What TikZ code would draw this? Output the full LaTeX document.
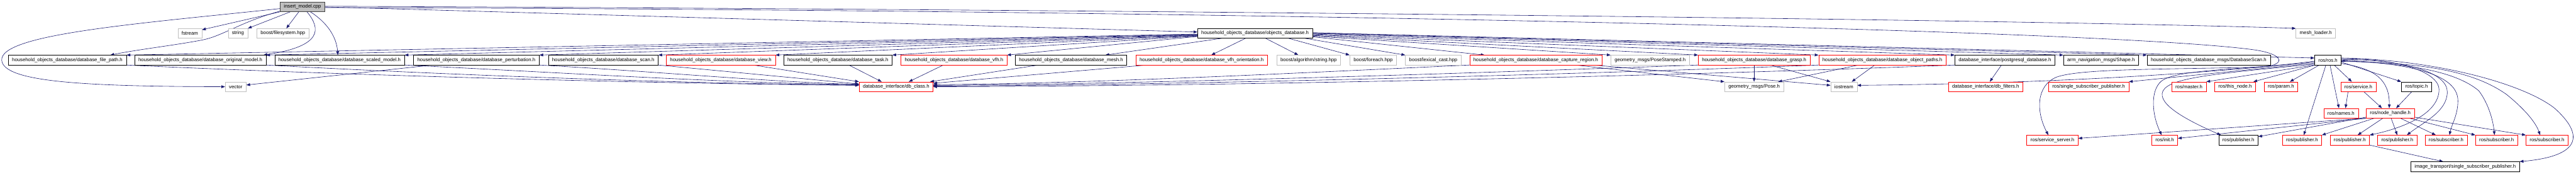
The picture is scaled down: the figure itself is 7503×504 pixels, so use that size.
\documentclass[tikz,border=0pt]{standalone}
\usepackage{fontspec}
\newfontfamily\dxfont{Liberation Sans}
\usetikzlibrary{arrows.meta,backgrounds,calc}
\definecolor{dxedge}{RGB}{25,25,112}
\definecolor{dxred}{RGB}{255,0,0}
\definecolor{dxgray}{RGB}{191,191,191}
\definecolor{dxfill}{RGB}{191,191,191}
\definecolor{dxdark}{RGB}{64,64,64}
\tikzset{
  hdr/.style={rectangle, draw=#1, line width=1pt, fill=white, text=black,
    inner xsep=11pt, inner ysep=0pt, minimum height=28pt,
    font=\dxfont\fontsize{14.25}{16}\selectfont},
  hdr/.default=black,
  incl/.style={-{Triangle[length=11pt,width=8pt]}, line width=1.1pt, draw=dxedge}
}
\begin{document}
\begin{tikzpicture}[x=1pt,y=1pt]
  \useasboundingbox (0,0) rectangle (7503,504);
  % file itself
  \node[hdr=dxdark, fill=dxfill] (ins) at (881,484) {insert\_model.cpp};
  % second rank
  \node[hdr=dxgray] (fstrm) at (553,407) {fstream};
  \node[hdr=dxgray] (strng) at (693,407) {string};
  \node[hdr=dxgray] (fsys) at (824,407) {boost/filesystem.hpp};
  \node[hdr] (objdb) at (3655.5,407) {household\_objects\_database/objects\_database.h};
  \node[hdr=dxgray] (meshld) at (6745,407) {mesh\_loader.h};
  % third rank
  \node[hdr] (fpath) at (196,329.5) {household\_objects\_database/database\_file\_path.h};
  \node[hdr] (origm) at (583.5,329.5) {household\_objects\_database/database\_original\_model.h};
  \node[hdr] (scalm) at (989,329.5) {household\_objects\_database/database\_scaled\_model.h};
  \node[hdr] (pertb) at (1387.5,329.5) {household\_objects\_database/database\_perturbation.h};
  \node[hdr] (scan) at (1757,329.5) {household\_objects\_database/database\_scan.h};
  \node[hdr=dxred] (view) at (2099.5,329.5) {household\_objects\_database/database\_view.h};
  \node[hdr] (task) at (2440.5,329.5) {household\_objects\_database/database\_task.h};
  \node[hdr=dxred] (vfh) at (2778.5,329.5) {household\_objects\_database/database\_vfh.h};
  \node[hdr] (mesh) at (3119.5,329.5) {household\_objects\_database/database\_mesh.h};
  \node[hdr=dxred] (vfho) at (3500,329.5) {household\_objects\_database/database\_vfh\_orientation.h};
  \node[hdr=dxgray] (algstr) at (3811.5,329.5) {boost/algorithm/string.hpp};
  \node[hdr=dxgray] (bforeach) at (3999.5,329.5) {boost/foreach.hpp};
  \node[hdr=dxgray] (lexcast) at (4174.5,329.5) {boost/lexical\_cast.hpp};
  \node[hdr=dxred] (capreg) at (4473,329.5) {household\_objects\_database/database\_capture\_region.h};
  \node[hdr=dxgray] (posest) at (4806,329.5) {geometry\_msgs/PoseStamped.h};
  \node[hdr=dxred] (grasp) at (5109,329.5) {household\_objects\_database/database\_grasp.h};
  \node[hdr=dxred] (objpath) at (5482.5,329.5) {household\_objects\_database/database\_object\_paths.h};
  \node[hdr] (pgdb) at (5839.5,329.5) {database\_interface/postgresql\_database.h};
  \node[hdr] (shape) at (6119.5,329.5) {arm\_navigation\_msgs/Shape.h};
  \node[hdr] (dbscan) at (6433,329.5) {household\_objects\_database\_msgs/DatabaseScan.h};
  \node[hdr] (rosros) at (6780.5,329.5) {ros/ros.h};
  % fourth rank
  \node[hdr=dxgray] (vector) at (686.5,252) {vector};
  \node[hdr=dxred] (dbclass) at (2610,252) {database\_interface/db\_class.h};
  \node[hdr=dxgray] (pose) at (5109,252) {geometry\_msgs/Pose.h};
  \node[hdr=dxgray] (iostrm) at (5370.5,252) {iostream};
  \node[hdr=dxred] (dbfilt) at (5783.5,252) {database\_interface/db\_filters.h};
  \node[hdr=dxred] (sspub) at (6083.5,252) {ros/single\_subscriber\_publisher.h};
  \node[hdr=dxred] (master) at (6375.5,252) {ros/master.h};
  \node[hdr=dxred] (thisnode) at (6510,252) {ros/this\_node.h};
  \node[hdr=dxred] (param) at (6643.5,252) {ros/param.h};
  \node[hdr=dxred] (service) at (6869,252) {ros/service.h};
  \node[hdr] (topic) at (7038.5,252) {ros/topic.h};
  % fifth rank
  \node[hdr=dxred] (names) at (6818.5,175) {ros/names.h};
  \node[hdr=dxred] (nhandle) at (6962,175) {ros/node\_handle.h};
  % sixth rank
  \node[hdr=dxred] (ssrv) at (5978,97) {ros/service\_server.h};
  \node[hdr=dxred] (init) at (6305,97) {ros/init.h};
  \node[hdr] (pubb) at (6519.5,97) {ros/publisher.h};
  \node[hdr=dxred] (pubr1) at (6705,97) {ros/publisher.h};
  \node[hdr=dxred] (pubr2) at (6844,97) {ros/publisher.h};
  \node[hdr=dxred] (pubr3) at (6982.5,97) {ros/publisher.h};
  \node[hdr=dxred] (sub1) at (7124.5,97) {ros/subscriber.h};
  \node[hdr=dxred] (sub2) at (7271.5,97) {ros/subscriber.h};
  \node[hdr=dxred] (sub3) at (7418.5,97) {ros/subscriber.h};
  % last rank
  \node[hdr] (imgtr) at (7180,20) {image\_transport/single\_subscriber\_publisher.h};

  \begin{scope}[on background layer]
    \fill[white] (0,0) rectangle (7503,504);
    % insert_model.cpp
    \draw[incl] (ins.south west) -- ([yshift=-4pt]fstrm.north east);
    \draw[incl] ([xshift=30pt]ins.south west) -- (strng.north east);
    \draw[incl] ([xshift=55pt]ins.south west) -- ([xshift=10pt]fsys.north);
    \draw[incl] ([xshift=79pt]ins.south west) .. controls (935,420) and (940,370) .. ([xshift=-8pt]origm.north east);
    \draw[incl] ([xshift=89pt]ins.south west) .. controls (950,440) and (980,400) .. ([xshift=-5pt]scalm.north);
    \draw[incl] ([yshift=2pt]ins.south west) .. controls (700,440) and (650,400) .. (590,388)
      .. controls (520,374) and (400,360) .. ([xshift=-47pt]fpath.north east);
    \draw[incl] ([yshift=-5pt]ins.west) .. controls (400,435) and (0,405) .. (5,329)
      .. controls (10,265) and (250,253) .. (vector.west);
    \draw[incl] (ins.east) -- ([yshift=4pt]objdb.west);
    \draw[incl] ([yshift=2pt]ins.east) .. controls (3500,475) and (6000,445) .. (meshld.north west);
    \draw[incl] ([yshift=-2pt]ins.east) .. controls (3500,476) and (6100,420) .. (6560,360)
      .. controls (6660,347) and (6660,312) .. (6580,309)
      .. controls (6300,302) and (6060,305) .. (5990,280)
      .. controls (5930,255) and (5930,180) .. ([xshift=-12pt]ssrv.north);
    % objects_database.h
    \foreach \t/\s in {fpath/-2, origm/-3, scalm/-4, pertb/-5, scan/-6, view/-7, task/-8, vfh/-9}
      \draw[incl] ([yshift=\s pt]objdb.west) -- (\t.north east);
    \draw[incl] ([xshift=-98pt]objdb.south) -- ([xshift=100pt]mesh.north);
    \draw[incl] ([xshift=-28pt]objdb.south) -- ([xshift=28pt]vfho.north);
    \draw[incl] ([xshift=31pt]objdb.south) -- ([xshift=-30pt]algstr.north);
    \draw[incl] ([xshift=98pt]objdb.south) -- (bforeach.north west);
    \draw[incl] ([xshift=-22pt]objdb.south east) -- (lexcast.north west);
    \draw[incl] ([yshift=-10pt]objdb.east) -- ([xshift=44pt]capreg.north west);
    \foreach \t/\s in {posest/-8, grasp/-6, objpath/-4, pgdb/-2, shape/0, dbscan/1}
      \draw[incl] ([yshift=\s pt]objdb.east) -- (\t.north west);
    \draw[incl] ([yshift=2pt]objdb.east) -- ([yshift=6pt]rosros.west);
    % into db_class.h
    \draw[incl] (fpath.south east) .. controls (900,290) and (1800,262) .. ([yshift=4pt]dbclass.west);
    \draw[incl] (origm.south east) .. controls (1200,292) and (1900,262) .. ([yshift=5pt]dbclass.west);
    \draw[incl] (scalm.south east) .. controls (1600,295) and (2100,263) .. ([yshift=6pt]dbclass.west);
    \draw[incl] (pertb.south east) .. controls (1900,297) and (2250,265) .. ([yshift=7pt]dbclass.west);
    \draw[incl] (scan.south east) -- ([yshift=8pt]dbclass.west);
    \draw[incl] ([xshift=-65pt]view.south east) -- (dbclass.north west);
    \draw[incl] ([xshift=32pt]task.south) -- ([xshift=-42pt]dbclass.north);
    \draw[incl] ([xshift=-31pt]vfh.south) -- ([xshift=37pt]dbclass.north);
    \draw[incl] ([xshift=-95pt]mesh.south) -- ([xshift=-9pt]dbclass.north east);
    \draw[incl] ([xshift=32pt]vfho.south west) -- ([yshift=10pt]dbclass.east);
    \draw[incl] (capreg.south west) .. controls (3800,293) and (3200,262) .. ([yshift=6pt]dbclass.east);
    \draw[incl] (grasp.south west) .. controls (4300,292) and (3300,259) .. ([yshift=4pt]dbclass.east);
    \draw[incl] (objpath.south west) .. controls (4700,292) and (3500,257) .. ([yshift=2pt]dbclass.east);
    \draw[incl] (pgdb.south west) .. controls (5100,292) and (3800,255) .. (dbclass.east);
    \draw[incl] ([xshift=56pt]pertb.south west) -- ([yshift=5pt]vector.east);
    % messages and iostream
    \draw[incl] ([xshift=116pt]capreg.south) -- (pose.north west);
    \draw[incl] ([xshift=-26pt]capreg.south east) -- ([yshift=4pt]iostrm.west);
    \draw[incl] (grasp.south) -- (pose.north);
    \draw[incl] ([xshift=47pt]grasp.south) -- (iostrm.north west);
    \draw[incl] ([xshift=-69pt]objpath.south) -- ([xshift=-16pt]pose.north east);
    \draw[incl] ([xshift=-22pt]objpath.south) -- ([xshift=23pt]iostrm.north);
    \draw[incl] ([xshift=-10pt]pgdb.south) -- ([xshift=12pt]dbfilt.north);
    % ros/ros.h, left side
    \draw[incl] ([yshift=-3pt]rosros.west) .. controls (6550,300) and (6340,305) .. (6295,268)
      .. controls (6262,240) and (6268,170) .. ([xshift=-9pt]init.north);
    \draw[incl] ([yshift=-6pt]rosros.west) .. controls (6400,290) and (6000,262) .. ([yshift=4pt]iostrm.east);
    \draw[incl] ([yshift=-9pt]rosros.west) -- (sspub.north east);
    \draw[incl] ([yshift=-12pt]rosros.west) .. controls (6450,290) and (6320,278) .. (6300,240)
      .. controls (6280,200) and (6380,150) .. ([xshift=7pt]pubb.north west);
    \draw[incl] (rosros.south west) -- (master.north east);
    \draw[incl] ([xshift=2pt]rosros.south west) -- ([xshift=-7pt]thisnode.north east);
    \draw[incl] ([xshift=14pt]rosros.south west) -- ([xshift=26pt]param.north);
    \draw[incl] ([xshift=-6pt]rosros.south) -- ([xshift=5pt]pubr1.north);
    \draw[incl] ([xshift=6pt]rosros.south) -- ([xshift=-6pt]names.north);
    \draw[incl] ([xshift=18pt]rosros.south) -- ([xshift=-19pt]service.north);
    % ros/ros.h, right side
    \draw[incl] ([yshift=-10pt]rosros.east) .. controls (6920,305) and (6960,270) .. ([xshift=-3pt]nhandle.north);
    \draw[incl] ([yshift=-6pt]rosros.east) -- (topic.north west);
    \draw[incl] ([yshift=4pt]rosros.east) .. controls (7000,334) and (7104,290) .. (7104,244)
      .. controls (7104,170) and (6990,130) .. (pubr2.north east);
    \draw[incl] ([yshift=2pt]rosros.east) .. controls (7020,330) and (7128,290) .. (7128,237)
      .. controls (7128,180) and (7060,150) .. ([xshift=28pt]pubr3.north);
    \draw[incl] (rosros.east) .. controls (7050,318) and (7159,280) .. (7159,211)
      .. controls (7159,170) and (7140,140) .. ([xshift=10pt]sub1.north);
    \draw[incl] ([yshift=-2pt]rosros.east) .. controls (7000,320) and (7150,300) .. (7220,240)
      .. controls (7250,200) and (7262,150) .. ([xshift=-6pt]sub2.north);
    \draw[incl] ([yshift=-4pt]rosros.east) .. controls (7050,322) and (7200,300) .. (7300,230)
      .. controls (7350,190) and (7385,150) .. ([xshift=-20pt]sub3.north);
    \draw[incl] ([yshift=6pt]rosros.east) .. controls (7100,330) and (7350,260) .. (7440,190)
      .. controls (7530,110) and (7515,50) .. (imgtr.north east);
    % service.h, topic.h, node_handle.h
    \draw[incl] ([xshift=16pt]service.south) -- ([xshift=-24pt]nhandle.north);
    \draw[incl] ([xshift=-30pt]service.south) -- ([xshift=13pt]names.north);
    \draw[incl] ([xshift=-14pt]topic.south) -- ([xshift=17pt]nhandle.north);
    \draw[incl] (nhandle.south west) -- ([yshift=5pt]ssrv.east);
    \draw[incl] ([xshift=3pt]nhandle.south west) -- ([yshift=5pt]init.east);
    \draw[incl] ([yshift=3pt]nhandle.south west) -- ([yshift=10pt]pubb.east);
    \draw[incl] ([xshift=24pt]nhandle.south west) -- (pubr1.north east);
    \draw[incl] ([xshift=49pt]nhandle.south west) -- ([xshift=23pt]pubr2.north);
    \draw[incl] ([xshift=73pt]nhandle.south west) -- (pubr3.north);
    \draw[incl] ([xshift=100pt]nhandle.south west) -- ([xshift=-30pt]sub1.north);
    \draw[incl] ([xshift=126pt]nhandle.south west) -- (sub2.north west);
    \draw[incl] ([yshift=3pt]nhandle.south east) -- (sub3.north west);
    \draw[incl] (pubr2.south east) -- ([xshift=-64pt]imgtr.north);
  \end{scope}
\end{tikzpicture}
\end{document}
